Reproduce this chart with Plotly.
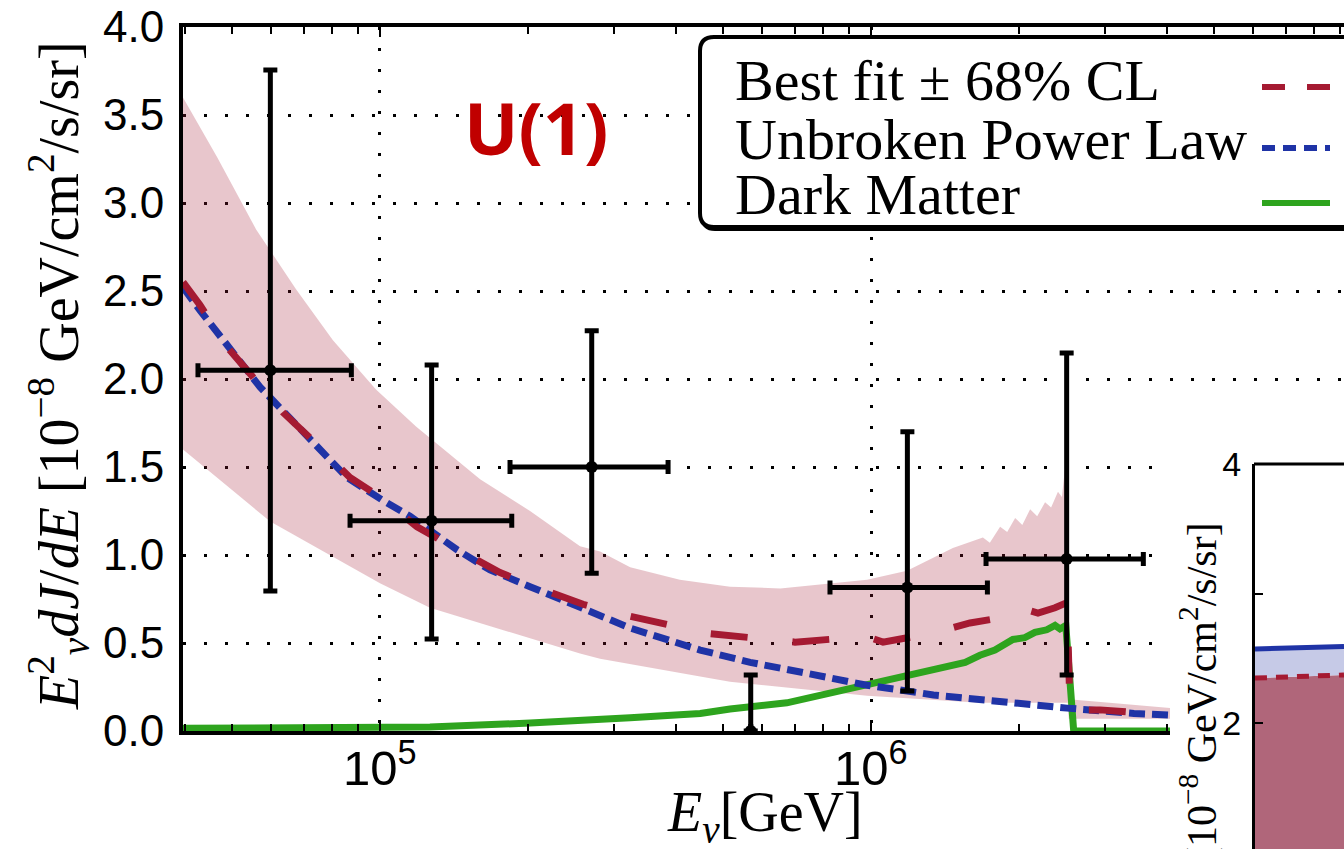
import plotly.graph_objects as go

W, H = 1344, 849


def px(x):
    return x / W


def py(y):
    return 1 - y / H


# ---------------- data ----------------
band_upper_E = [39700, 46600, 55940, 67450, 80190, 98140, 118400, 159900, 202100, 255500,
                280700, 323200, 408000, 516300, 653300, 981900, 1184000, 1468000, 1690000,
                1746000, 1832000, 1894000, 1966000, 2033000, 2109000, 2180000, 2262000,
                2327000, 2403000, 2448000, 2481000, 2516000, 2528000, 4064000]
band_upper = [3.60, 3.26, 2.85, 2.51, 2.22, 1.94, 1.73, 1.43, 1.25, 1.05,
              1.02, 0.93, 0.86, 0.82, 0.81, 0.86, 0.91, 1.04, 1.10,
              1.07, 1.16, 1.13, 1.21, 1.17, 1.26, 1.22, 1.30,
              1.27, 1.36, 1.33, 1.48, 1.45, 0.18, 0.13]

band_lower_E = [39700, 59770, 100000, 126400, 162100, 255500, 280700, 448900, 516300,
                981900, 1667000, 2516000, 2528000, 4064000]
band_lower = [1.60, 1.19, 0.84, 0.70, 0.61, 0.44, 0.41, 0.31, 0.28,
              0.20, 0.16, 0.16, 0.07, 0.07]

fit_E = [39700, 42990, 48570, 54350, 63460, 73040, 86850, 100000, 118970, 140830,
         175550, 206950, 259100, 308200, 389700, 463400, 594100, 700200, 906100,
         995400, 1057800, 1337500, 1590600, 1901000, 2011000, 2188000, 2370000,
         2507000, 2543000, 2927000, 4064000]
fit_val = [2.55, 2.42, 2.19, 2.03, 1.81, 1.65, 1.44, 1.33, 1.16, 1.045,
           0.90, 0.82, 0.72, 0.665, 0.60, 0.555, 0.525, 0.505, 0.53,
           0.53, 0.505, 0.557, 0.614, 0.65, 0.70, 0.67, 0.70,
           0.73, 0.12, 0.12, 0.09]

pl_E = [39700, 42990, 56950, 79100, 85660, 101400, 115110, 143500, 167500, 202100,
        280700, 323200, 448900, 567400, 717600, 981900, 1340000, 1832000, 2507000,
        3433000, 4064000]
pl_val = [2.52, 2.39, 1.955, 1.53, 1.44, 1.31, 1.22, 1.03, 0.915, 0.82,
          0.65, 0.585, 0.46, 0.39, 0.335, 0.26, 0.205, 0.165, 0.13,
          0.10, 0.09]

dm_E = [39700, 68700, 100000, 126400, 202100, 280700, 323200, 448900, 516300, 674100,
        981900, 1302000, 1450000, 1555000, 1667000, 1788000, 1945000, 2057000,
        2157000, 2280000, 2370000, 2425000, 2493000, 2587000, 4064000]
dm_val = [0.015, 0.015, 0.02, 0.023, 0.045, 0.062, 0.075, 0.10, 0.125, 0.16,
          0.26, 0.335, 0.37, 0.39, 0.43, 0.46, 0.52, 0.53,
          0.56, 0.575, 0.60, 0.58, 0.60, 0.0, 0.0]

pts_E = [59800, 127400, 269900, 568900, 1186000, 2503000]
pts_val = [2.05, 1.195, 1.50, 0.0, 0.815, 0.977]
pts_hi = [3.756, 2.08, 2.274, 0.318, 1.70, 2.148]
pts_lo = [0.795, 0.523, 0.896, 0.0, 0.227, 0.318]
pts_E_lo = [42590, 86900, 184000, 568900, 825000, 1715000]
pts_E_hi = [87430, 185500, 386100, 568900, 1726000, 3586000]

inset_x = [0.0, 1.0]
inset_pl = [2.571, 2.591]
inset_fit = [2.347, 2.371]

legend_labels = ["Best fit \u00b1 68% CL", "Unbroken Power Law", "Dark Matter"]
x_tick_exponents = [5, 6]
y_tickvals = [0.0, 0.5, 1.0, 1.5, 2.0, 2.5, 3.0, 3.5, 4.0]
inset_tickvals = [2, 3, 4]
inset_ticktext = ["2", "", "4"]

# ---------------- colours ----------------
RED = "#a51a32"
BLUE = "#1f33a6"
GREEN = "#2ea41e"
BAND = "rgba(165,26,50,0.25)"
MAUVE = "#b0667a"
LIGHTBLUE = "#c6cae7"
SERIF = "Liberation Serif"
SANS = "Liberation Sans"

YLABEL = ("<i>E</i><sup>2</sup><sub><i>\u03bd</i></sub><i>dJ</i>/<i>dE</i> "
          "[10<sup>\u22128</sup> GeV/cm<sup>2</sup>/s/sr]")

fig = go.Figure()

# 68% CL band
fig.add_trace(go.Scatter(
    x=band_upper_E + band_lower_E[::-1],
    y=band_upper + band_lower[::-1],
    fill="toself", fillcolor=BAND, line=dict(width=0), mode="lines",
    hoverinfo="skip", xaxis="x", yaxis="y"))

# dark matter
fig.add_trace(go.Scatter(x=dm_E, y=dm_val, mode="lines",
                         line=dict(color=GREEN, width=7), xaxis="x", yaxis="y"))
# unbroken power law
fig.add_trace(go.Scatter(x=pl_E, y=pl_val, mode="lines",
                         line=dict(color=BLUE, width=7, dash="16px,7px"),
                         xaxis="x", yaxis="y"))
# best fit
fig.add_trace(go.Scatter(x=fit_E, y=fit_val, mode="lines",
                         line=dict(color=RED, width=7, dash="37px,45px"),
                         xaxis="x", yaxis="y"))

# data points
fig.add_trace(go.Scatter(
    x=pts_E, y=pts_val, mode="markers",
    marker=dict(color="black", size=12),
    error_y=dict(type="data", symmetric=False,
                 array=[h - v for h, v in zip(pts_hi, pts_val)],
                 arrayminus=[v - l for l, v in zip(pts_lo, pts_val)],
                 color="black", thickness=5, width=7),
    error_x=dict(type="data", symmetric=False,
                 array=[h - e for h, e in zip(pts_E_hi, pts_E)],
                 arrayminus=[e - l for l, e in zip(pts_E_lo, pts_E)],
                 color="black", thickness=5, width=7),
    xaxis="x", yaxis="y"))

# cover subplot (white background of the pasted inset)
fig.add_trace(go.Scatter(x=[0.5], y=[0.5], mode="markers",
                         marker=dict(opacity=0), hoverinfo="skip",
                         xaxis="x2", yaxis="y2"))

# inset
fig.add_trace(go.Scatter(x=inset_x, y=inset_fit, mode="lines", fill="tozeroy",
                         fillcolor=MAUVE, line=dict(width=0),
                         xaxis="x3", yaxis="y3"))
fig.add_trace(go.Scatter(x=inset_x, y=inset_pl, mode="lines", fill="tonexty",
                         fillcolor=LIGHTBLUE, line=dict(color=BLUE, width=5),
                         xaxis="x3", yaxis="y3"))
fig.add_trace(go.Scatter(x=inset_x, y=inset_fit, mode="lines",
                         line=dict(color=RED, width=5, dash="12px,9px"),
                         xaxis="x3", yaxis="y3"))

grid = dict(showgrid=True, gridcolor="black", gridwidth=3, griddash="3px,18px")

fig.update_layout(
    width=W, height=H,
    margin=dict(l=0, r=0, t=0, b=0, autoexpand=False),
    paper_bgcolor="white", plot_bgcolor="white",
    showlegend=False,
    xaxis=dict(domain=[px(183), 1.0], anchor="y", type="log",
               range=[4.5988, 6.9633], dtick=1, showticklabels=False,
               showline=True, linewidth=4, linecolor="black", mirror="allticks",
               ticks="inside", ticklen=10, tickwidth=2, tickcolor="black",
               minor=dict(ticks="inside", ticklen=7, tickwidth=2, tickcolor="black",
                          showgrid=False),
               zeroline=False, **grid),
    yaxis=dict(domain=[py(731), py(27)], anchor="x", range=[0, 4],
               tickvals=y_tickvals, tickformat=".1f",
               showline=True, linewidth=4, linecolor="black", mirror=False,
               ticks="", ticklabelstandoff=6,
               tickfont=dict(family=SANS, size=44, color="black"),
               zeroline=False, **grid),
    xaxis2=dict(domain=[px(1170), 1.0], anchor="y2", range=[0, 1], visible=False),
    yaxis2=dict(domain=[0.0, py(440)], anchor="x2", range=[0, 1], visible=False),
    xaxis3=dict(domain=[px(1255), 1.0], anchor="y3", range=[0, 1], visible=False),
    yaxis3=dict(domain=[0.0, py(464)], anchor="x3", range=[1.027, 4.0],
                tickvals=inset_tickvals, ticktext=inset_ticktext,
                ticks="inside", ticklen=8, tickwidth=2, tickcolor="black",
                showline=True, linewidth=3, linecolor="black", showgrid=False,
                zeroline=False, ticklabelstandoff=4,
                tickfont=dict(family=SANS, size=34, color="black")),
)


def rounded_box(x0, y0, x1, y1, r):
    pts = [
        f"M {px(x0 + r)} {py(y0)}",
        f"L {px(x1)} {py(y0)}",
        f"L {px(x1)} {py(y1)}",
        f"L {px(x0 + r)} {py(y1)}",
        f"Q {px(x0)} {py(y1)} {px(x0)} {py(y1 - r)}",
        f"L {px(x0)} {py(y0 + r)}",
        f"Q {px(x0)} {py(y0)} {px(x0 + r)} {py(y0)}",
        "Z",
    ]
    return " ".join(pts)


shapes = [
    dict(type="path", xref="paper", yref="paper", path=rounded_box(701, 40, 1420, 231, 14),
         fillcolor="black", line=dict(width=0), layer="above"),
    dict(type="path", xref="paper", yref="paper", path=rounded_box(700, 37, 1420, 227, 14),
         fillcolor="white", line=dict(color="black", width=4), layer="above"),
    dict(type="line", xref="paper", yref="paper", x0=px(1262), x1=px(1330), y0=py(87), y1=py(87),
         line=dict(color=RED, width=6, dash="23px,22px"), layer="above"),
    dict(type="line", xref="paper", yref="paper", x0=px(1262), x1=px(1330), y0=py(148), y1=py(148),
         line=dict(color=BLUE, width=6, dash="13px,8px"), layer="above"),
    dict(type="line", xref="paper", yref="paper", x0=px(1262), x1=px(1330), y0=py(203), y1=py(203),
         line=dict(color=GREEN, width=6), layer="above"),
    # inset top frame
    dict(type="line", xref="paper", yref="paper", x0=px(1254), x1=px(1350), y0=py(464), y1=py(464),
         line=dict(color="black", width=3), layer="above"),
]

annotations = []
for label, yc in zip(legend_labels, [80, 139, 195]):
    annotations.append(dict(xref="paper", yref="paper", x=px(733), y=py(yc),
                            xanchor="left", yanchor="middle", showarrow=False,
                            text=label, font=dict(family=SERIF, size=58, color="black")))

# x tick labels (10^5, 10^6) placed on the log axis
for ex in x_tick_exponents:
    annotations.append(dict(xref="x", yref="paper", x=ex, y=py(764),
                            xanchor="center", yanchor="middle", showarrow=False,
                            text=f"10<sup>{ex}</sup>",
                            font=dict(family=SANS, size=49, color="black")))

annotations += [
    dict(xref="paper", yref="paper", x=px(536), y=py(127), xanchor="center", yanchor="middle",
         showarrow=False, text="U(1)",
         font=dict(family="Open Sans", size=72, color="#c00000", weight="bold")),
    dict(xref="paper", yref="paper", x=px(58), y=py(376), xanchor="center", yanchor="middle",
         showarrow=False, textangle=-90, text=YLABEL,
         font=dict(family=SERIF, size=56, color="black")),
    dict(xref="paper", yref="paper", x=px(765), y=py(816), xanchor="center", yanchor="middle",
         showarrow=False, text="<i>E</i><sub><i>\u03bd</i></sub>[GeV]",
         font=dict(family=SERIF, size=56, color="black")),
    dict(xref="paper", yref="paper", x=px(1201), y=py(520), xanchor="center", yanchor="top",
         showarrow=False, textangle=-90, text=YLABEL,
         font=dict(family=SERIF, size=42, color="black")),
]

fig.update_layout(shapes=shapes, annotations=annotations)

fig.write_html("out.html")
